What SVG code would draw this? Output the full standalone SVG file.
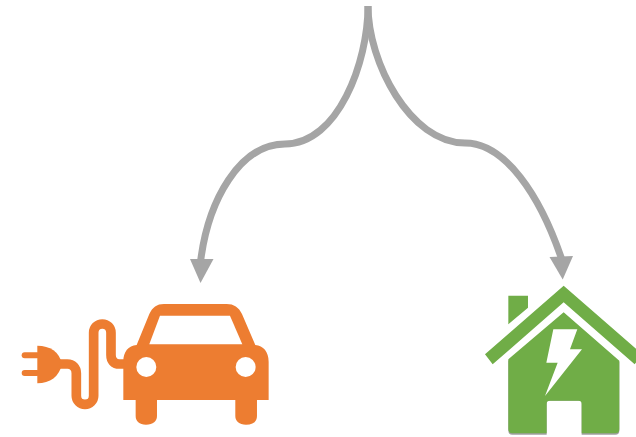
<svg xmlns="http://www.w3.org/2000/svg" width="636" height="437" viewBox="0 0 636 437">
<style>
.link{fill:none;stroke:#a5a5a5;stroke-width:7}
.head{fill:#a5a5a5}
.car{fill:#ed7d31}
.cable{fill:none;stroke:#ed7d31;stroke-width:29}
.home{fill:#70ad47}
.hole{fill:#fff}
</style>
<g id="connectors">
<path class="link" d="M368 6C368 62 338 144 285 144C240 144 208 200 200.500 262"/>
<polygon class="head" points="190,259 213.500,259 200.500,283"/>
<path class="link" d="M368 6C368 62 410 143 465 143C505 143 540 195 562 260"/>
<polygon class="head" points="549.500,257 573,256 562.700,279.500"/>
</g>
<g id="car" transform="translate(10 290) scale(.3333)">
<rect class="car" x="35" y="187" width="55" height="18" rx="9"/>
<rect class="car" x="35" y="240" width="55" height="18" rx="9"/>
<path class="car" d="M82 167C120 167 148 185 156 222C148 260 120 280 82 280Z"/>
<path class="cable" d="M150 222H172C188 222 199 233 199 250V317A26 26 0 0 0 251 317V128A26 26 0 0 1 303 128V195C303 212 312 222 328 222H350"/>
<path class="car" d="M340 330V215C340 185 355 167 380 165L418 72C428 52 440 42 462 42H650C672 42 686 52 696 72L736 165C760 167 776 185 776 215V330H741V378C741 394 730 404 708 404C688 404 676 394 676 378V330H441V378C441 394 430 404 408 404C388 404 377 394 377 378V330Z"/>
<polygon class="hole" points="418,163 450,77 660,77 697,163"/>
<circle class="hole" cx="409" cy="231" r="30"/>
<circle class="hole" cx="707" cy="231" r="30"/>
</g>
<g id="house" transform="translate(476 270) scale(.3333)">
<path fill="#a0a0a0" d="M97 272L263 130L430 275V482Q430 494 418 494H317V392H212V494H109Q97 494 97 482Z"/>
<path class="home" d="M97 268L263 127L430 272V478Q430 490 418 490H317V402Q317 392 307 392H222Q212 392 212 402V490H109Q97 490 97 478Z"/>
<polygon class="home" points="97,77 156,77 156,113 97,163"/>
<polygon class="home" points="263,47 27,253 50,283 263,97 476,283 499,253"/>
<polygon class="hole" points="232,178 304,178 282,238 318,238 207,378 245,278 211,278"/>
</g>
</svg>
